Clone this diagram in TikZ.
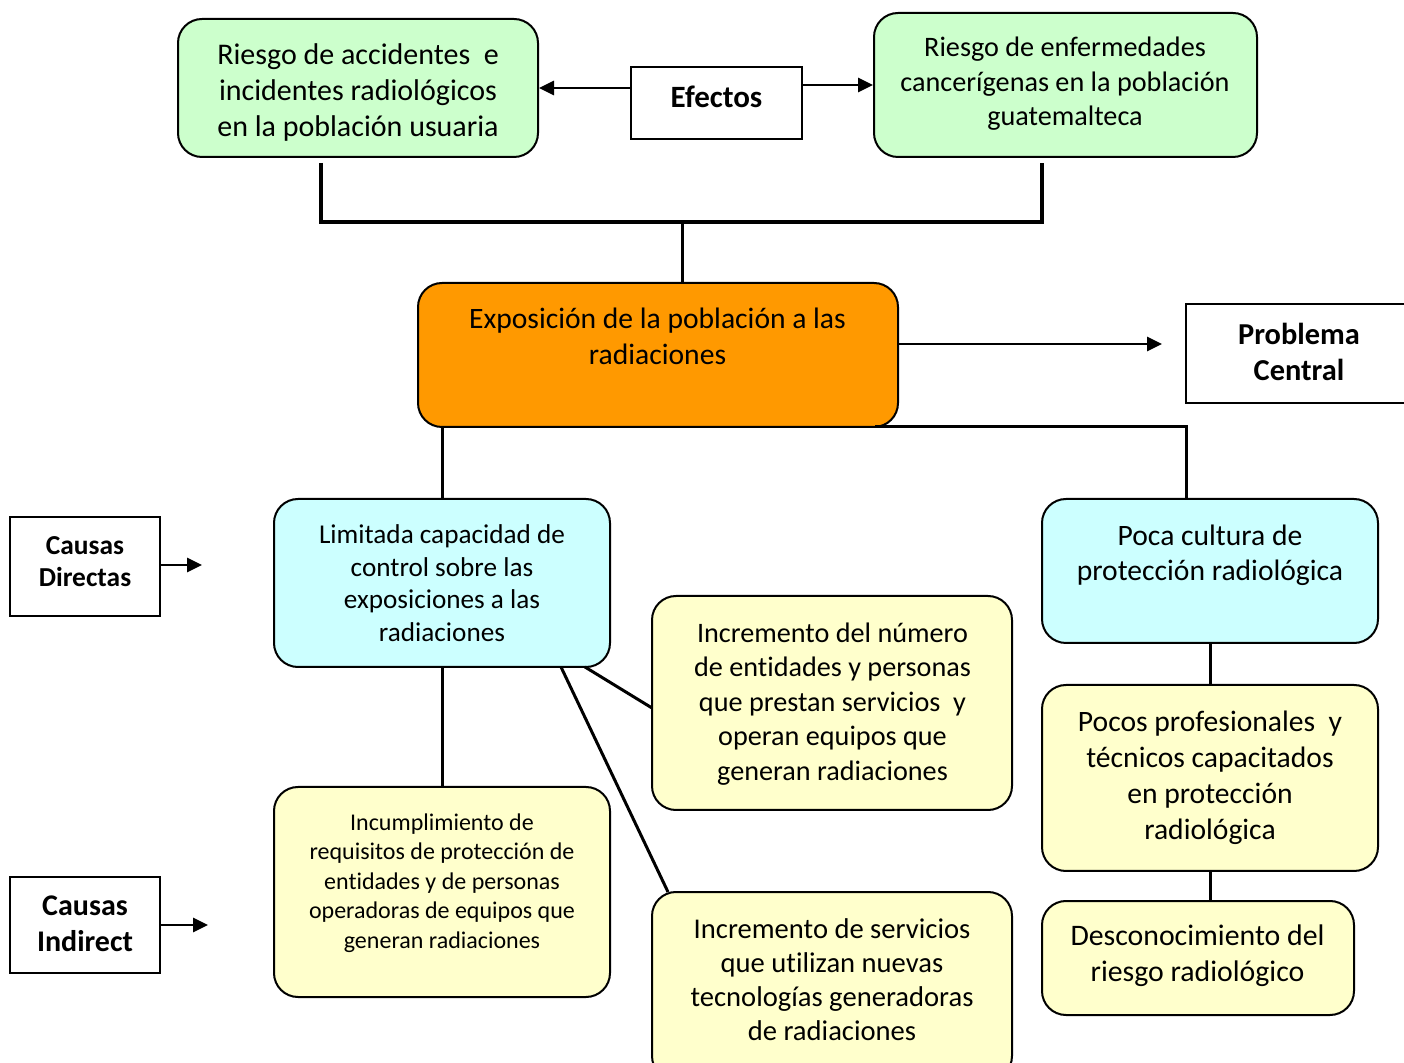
\documentclass[tikz,border=0pt]{standalone}
\usepackage{fontspec}
\setmainfont{Carlito}[Ligatures=NoCommon]
\usetikzlibrary{arrows.meta}
\definecolor{gfill}{HTML}{CCFFCC}
\definecolor{cfill}{HTML}{CCFFFF}
\definecolor{yfill}{HTML}{FFFFCC}
\definecolor{ofill}{HTML}{FF9900}
\newcommand{\fs}[2]{\fontsize{#1}{#2}\selectfont}
\begin{document}
\begin{tikzpicture}[x=0.5pt,y=-0.5pt,
  rbox/.style={draw=black, line width=1pt, rounded corners=12pt, inner sep=0pt},
  sbox/.style={draw=black, line width=1pt, fill=white, inner sep=0pt},
  txt/.style={align=center, inner sep=0pt},
  conn/.style={line width=1.5pt},
  brk/.style={line width=2pt},
  arr/.style={line width=1.4pt, -{Triangle[length=7.5pt,width=7pt]}}]
\fill[white] (0,0) rectangle (1404,1063);
\useasboundingbox (0,0) rectangle (1404,1063);

% boxes
\node[rbox, fill=gfill, minimum width=180pt, minimum height=69pt] (g1) at (358,88) {};
\node[sbox, minimum width=85.5pt, minimum height=36pt] (ef) at (716.5,103) {};
\node[rbox, fill=gfill, minimum width=191.5pt, minimum height=72pt] (g2) at (1065.5,85) {};
\node[rbox, fill=ofill, minimum width=240pt, minimum height=72pt] (or) at (658,355) {};
\node[sbox, minimum width=122pt, minimum height=49.5pt] (pc) at (1308,353.5) {};
\node[sbox, minimum width=75pt, minimum height=49.5pt] (cd) at (85,566.5) {};
\node[rbox, fill=cfill, minimum width=168pt, minimum height=84pt] (cl) at (442,583) {};
\node[rbox, fill=cfill, minimum width=168pt, minimum height=72pt] (cr) at (1210,571) {};
\node[rbox, fill=yfill, minimum width=180pt, minimum height=107pt] (y1) at (832,703) {};
\node[rbox, fill=yfill, minimum width=168pt, minimum height=105pt] (y2) at (442,892) {};
\node[rbox, fill=yfill, minimum width=180pt, minimum height=94pt] (y3) at (832,986) {};
\node[sbox, minimum width=75pt, minimum height=48pt] (ci) at (85,925) {};
\node[rbox, fill=yfill, minimum width=168pt, minimum height=93pt] (yr1) at (1210,778) {};
\node[rbox, fill=yfill, minimum width=156pt, minimum height=57pt] (yr2) at (1198,958) {};

% texts
\node[txt, font=\fs{15}{18}] (g1t) at (358,93) {Riesgo de accidentes\ \ e\\incidentes radiológicos\\en la población usuaria};
\node[txt, font=\fs{15.5}{18}\bfseries] (eft) at (716.5,97) {Efectos};
\node[txt, font=\fs{14.1}{17.25}] (g2t) at (1065,84) {Riesgo de enfermedades\\cancerígenas en la población\\guatemalteca};
\node[txt, font=\fs{14.8}{18}] (ort) at (657.5,336) {Exposición de la población a las\\radiaciones};
\node[txt, font=\fs{15.2}{18}\bfseries] (pct) at (1299,352) {Problema\\Central};
\node[txt, font=\fs{13.7}{16}\bfseries] (cdt) at (85,562) {Causas\\Directas};
\node[txt, font=\fs{13.6}{16.3}] (clt) at (442,583) {Limitada capacidad de\\control sobre las\\exposiciones a las\\radiaciones};
\node[txt, font=\fs{14.8}{17.5}] (crt) at (1210,555) {Poca cultura de\\protección radiológica};
\node[txt, font=\fs{14.1}{17.2}] (y1t) at (832.5,704) {Incremento del número\\de entidades y personas\\que prestan servicios\ \ y\\operan equipos que\\generan radiaciones};
\node[txt, font=\fs{12}{14.75}] (y2t) at (442,883) {Incumplimiento de\\requisitos de protección de\\entidades y de personas\\operadoras de equipos que\\generan radiaciones};
\node[txt, font=\fs{14.3}{17}] (y3t) at (832,980) {Incremento de servicios\\que utilizan nuevas\\tecnologías generadoras\\de radiaciones};
\node[txt, font=\fs{15}{18}\bfseries] (cit) at (85,924) {Causas\\Indirect};
\node[txt, font=\fs{14.8}{18}] (yr1t) at (1210,778) {Pocos profesionales\ \ y\\técnicos capacitados\\en protección\\radiológica};
\node[txt, font=\fs{14.9}{18}] (yr2t) at (1197.5,956) {Desconocimiento del\\riesgo radiológico};

% helper coordinates
\coordinate (y88) at (0,88);
\coordinate (y85) at (0,85);
\coordinate (bl) at (321,163);
\coordinate (br) at (1042,163);
\coordinate (bh) at (1042,222);
\coordinate (stem) at (682,222);
\coordinate (pcin) at (1162,344);
\coordinate (orR) at (875,427);
\coordinate (crT) at (1186,499);
\coordinate (cdE) at (202,565);
\coordinate (ciE) at (208,925);
\coordinate (clA) at (585,667);
\coordinate (y1A) at (652,708);
\coordinate (clB) at (561,667);
\coordinate (y3A) at (668,892);

% connectors
\draw[arr] (ef.west |- y88) -- (g1.east |- y88);
\draw[arr] (ef.east |- y85) -- (g2.west |- y85);
\draw[brk] (bl) |- (bh) -- (br);
\draw[conn] (stem) -- (stem |- or.north);
\draw[arr] (or.east |- pcin) -- (pcin);
\draw[conn] (or.south -| cl.north) -- (cl.north);
\draw[conn] (orR) -| (crT);
\draw[arr] (cd.east |- cdE) -- (cdE);
\draw[arr] (ci.east |- ciE) -- (ciE);
\draw[conn] (clA) -- (y1A);
\draw[conn] (clB) -- (y3A);
\draw[conn] (cl.south) -- (y2.north);
\draw[conn] (cr.south) -- (yr1.north);
\draw[conn] (yr1.south) -- (yr2.north -| yr1.south);
\end{tikzpicture}
\end{document}
